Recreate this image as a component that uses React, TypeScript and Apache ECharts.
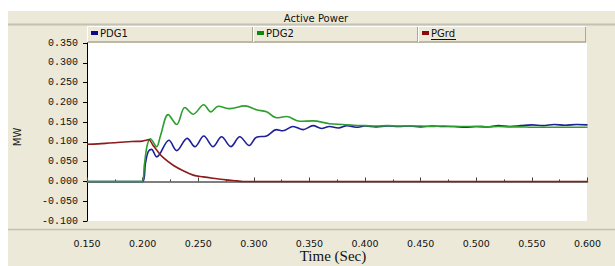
import React, { useEffect, useRef } from "react";
import * as echarts from "echarts";

const title = "Active Power";
const seriesNames = ["PDG1", "PDG2", "PGrd"];
const yAxisName = "MW";
const xAxisName = "Time (Sec)";

const pdg1Time = [0.15, 0.2, 0.2025, 0.205, 0.208, 0.2126, 0.2237, 0.2306, 0.2401, 0.247, 0.255, 0.2634, 0.271, 0.2793, 0.2874, 0.2958, 0.3024, 0.3114, 0.3204, 0.326, 0.3353, 0.3443, 0.3533, 0.3608, 0.368, 0.376, 0.384, 0.392, 0.4, 0.41, 0.42, 0.43, 0.44, 0.45, 0.46, 0.47, 0.48, 0.49, 0.5, 0.51, 0.52, 0.53, 0.54, 0.55, 0.56, 0.57, 0.58, 0.59, 0.6];
const pdg1Values = [0, 0, 0.045, 0.075, 0.081, 0.062, 0.104, 0.078, 0.109, 0.088, 0.115, 0.088, 0.113, 0.088, 0.113, 0.091, 0.112, 0.115, 0.131, 0.128, 0.139, 0.131, 0.141, 0.134, 0.139, 0.135, 0.141, 0.137, 0.14, 0.138, 0.14, 0.139, 0.14, 0.138, 0.14, 0.139, 0.139, 0.137, 0.139, 0.138, 0.141, 0.139, 0.141, 0.143, 0.141, 0.144, 0.142, 0.144, 0.143];

const pdg2Time = [0.15, 0.1995, 0.2015, 0.204, 0.207, 0.2126, 0.216, 0.223, 0.2306, 0.238, 0.2455, 0.255, 0.2614, 0.268, 0.2785, 0.292, 0.3024, 0.3114, 0.3204, 0.3294, 0.3414, 0.353, 0.368, 0.38, 0.39, 0.4, 0.41, 0.42, 0.43, 0.44, 0.45, 0.46, 0.47, 0.48, 0.49, 0.5, 0.51, 0.52, 0.53, 0.54, 0.55, 0.56, 0.57, 0.58, 0.59, 0.6];
const pdg2Values = [0, 0, 0.04, 0.09, 0.108, 0.088, 0.115, 0.169, 0.144, 0.187, 0.17, 0.194, 0.176, 0.19, 0.184, 0.191, 0.181, 0.176, 0.161, 0.164, 0.152, 0.153, 0.146, 0.144, 0.142, 0.141, 0.14, 0.141, 0.14, 0.14, 0.14, 0.139, 0.14, 0.139, 0.139, 0.139, 0.138, 0.139, 0.138, 0.138, 0.137, 0.137, 0.137, 0.137, 0.137, 0.137];

const pgrdTime = [0.15, 0.16, 0.17, 0.18, 0.19, 0.2, 0.203, 0.2055, 0.209, 0.213, 0.2186, 0.2275, 0.2365, 0.2455, 0.2545, 0.2634, 0.275, 0.2845, 0.29, 0.6];
const pgrdValues = [0.094, 0.095, 0.097, 0.099, 0.101, 0.102, 0.104, 0.106, 0.093, 0.078, 0.06, 0.041, 0.027, 0.016, 0.0115, 0.008, 0.004, 0.0015, 0, 0];

const lineColors = ["#1f1f98", "#2e9e2e", "#8c1c1c"];
const markerColors = ["#0a0a8c", "#0a8a0a", "#8a0a0a"];

const zip = (t: number[], v: number[]) => t.map((x, i) => [x, v[i]]);

export default function App() {
  const ref = useRef<HTMLDivElement>(null);
  useEffect(() => {
    document.body.style.margin = "0";
    const chart = echarts.init(ref.current!, null, { renderer: "svg" });
    const beige = "#ECE9D8";
    const shadow = "#ACA899";
    const cellX = [87, 253, 418, 586];
    const legendEls: any[] = [];
    seriesNames.forEach((name, i) => {
      const x0 = cellX[i];
      const x1 = cellX[i + 1];
      legendEls.push(
        { type: "line", z: -4, shape: { x1: x0 + 0.5, y1: 27, x2: x0 + 0.5, y2: 42 }, style: { stroke: "#fff", lineWidth: 1 } },
        { type: "line", z: -4, shape: { x1: x1 - 0.5, y1: 27, x2: x1 - 0.5, y2: 42 }, style: { stroke: shadow, lineWidth: 1 } },
        { type: "rect", z: 5, shape: { x: x0 + 4, y: 31, width: 7, height: 4 }, style: { fill: markerColors[i] } },
        { type: "text", z: 5, x: x0 + 13, y: 33.5, style: { text: name, font: "10px 'DejaVu Sans'", fill: "#111", verticalAlign: "middle" } }
      );
    });
    legendEls.push({ type: "line", z: 5, shape: { x1: cellX[2] + 13, y1: 39.5, x2: cellX[2] + 38, y2: 39.5 }, style: { stroke: "#111", lineWidth: 1 } });

    chart.setOption({
      animation: false,
      backgroundColor: "#fff",
      graphic: {
        elements: [
          { type: "rect", z: -10, shape: { x: 8, y: 11, width: 607, height: 255 }, style: { fill: beige } },
          { type: "line", z: -9, shape: { x1: 8, y1: 24.5, x2: 615, y2: 24.5 }, style: { stroke: "#C4C1B1", lineWidth: 2 } },
          { type: "line", z: -9, shape: { x1: 87, y1: 26.5, x2: 586, y2: 26.5 }, style: { stroke: "#fff", lineWidth: 1 } },
          { type: "line", z: -9, shape: { x1: 87, y1: 42, x2: 586, y2: 42 }, style: { stroke: shadow, lineWidth: 1.5 } },
          { type: "rect", z: -5, shape: { x: 87, y: 43, width: 500, height: 178 }, style: { fill: "#fff" } },
          { type: "line", z: -9, shape: { x1: 8, y1: 229.5, x2: 615, y2: 229.5 }, style: { stroke: "#C4C1B1", lineWidth: 1.5 } },
          ...legendEls,
          { type: "text", z: 5, x: 316, y: 18, style: { text: title, font: "10px 'DejaVu Sans'", fill: "#111", align: "center", verticalAlign: "middle" } },
          { type: "text", z: 5, x: 17, y: 137, rotation: Math.PI / 2, style: { text: yAxisName, font: "10px 'DejaVu Sans'", fill: "#222", align: "center", verticalAlign: "middle" } },
          { type: "text", z: 5, x: 333, y: 256, style: { text: xAxisName, font: "15px 'Liberation Serif'", fill: "#111", align: "center", verticalAlign: "middle" } },
        ],
      },
      grid: { left: 87, right: 27.5, top: 43, bottom: 45 },
      xAxis: {
        type: "value",
        min: 0.15,
        max: 0.6,
        interval: 0.05,
        offset: 11,
        axisLine: { show: true, lineStyle: { color: "#555", width: 1.5 } },
        axisTick: { show: true, inside: true, length: 4, lineStyle: { color: "#444" } },
        minorTick: { show: true, splitNumber: 2, length: 2, lineStyle: { color: "#444" } },
        splitLine: { show: false },
        axisLabel: { margin: 6, color: "#111", fontFamily: "'DejaVu Sans'", fontSize: 9.5, formatter: (v: number) => v.toFixed(3) },
      },
      yAxis: {
        type: "value",
        min: -0.1,
        max: 0.35,
        interval: 0.05,
        axisLine: { show: true, lineStyle: { color: "#000", width: 1 } },
        axisTick: { show: true, inside: false, length: 4, lineStyle: { color: "#000" } },
        splitLine: { show: false },
        axisLabel: { margin: 9, color: "#111", fontFamily: "'Liberation Mono'", fontSize: 10, formatter: (v: number) => v.toFixed(3) },
      },
      series: [
        { name: seriesNames[0], type: "line", data: zip(pdg1Time, pdg1Values), showSymbol: false, smooth: 0.35, lineStyle: { color: lineColors[0], width: 1.6 }, z: 2 },
        { name: seriesNames[1], type: "line", data: zip(pdg2Time, pdg2Values), showSymbol: false, smooth: 0.35, lineStyle: { color: lineColors[1], width: 1.6 }, z: 3 },
        { name: seriesNames[2], type: "line", data: zip(pgrdTime, pgrdValues), showSymbol: false, smooth: 0.35, lineStyle: { color: lineColors[2], width: 1.6 }, z: 4 },
      ],
    });
    return () => chart.dispose();
  }, []);
  return <div ref={ref} style={{ width: 615, height: 266, overflow: "hidden" }} />;
}
